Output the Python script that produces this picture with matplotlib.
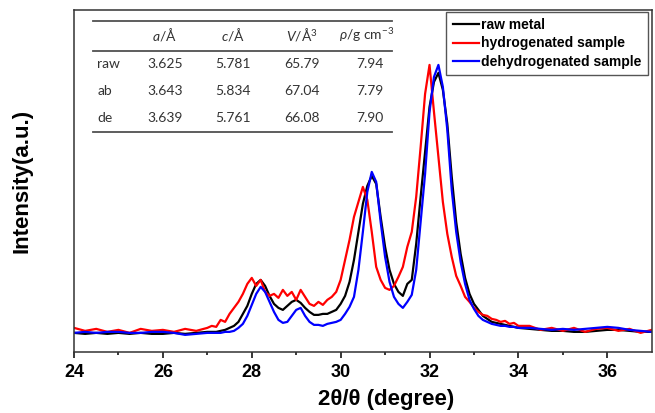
import numpy as np
import matplotlib
matplotlib.use("Agg")
import matplotlib.pyplot as plt

# 2theta grid (degrees): coarse on the flat baseline, finer around the peaks
two_theta = np.concatenate([
    np.arange(24.0, 27.01, 0.25),
    np.arange(27.1, 34.01, 0.1),
    np.arange(34.25, 37.01, 0.25),
])

raw_metal = [
    19, 18, 19, 18, 19, 18, 19, 18, 18, 19, 18, 19, 20,
    20, 20, 21, 22, 24, 26, 30, 38, 46, 58,
    68, 72, 66, 56, 48, 44, 42, 46, 50, 52,
    49, 44, 40, 37, 37, 38, 38, 40, 42, 48,
    56, 70, 92, 120, 148, 166, 176, 168, 135, 105,
    82, 68, 60, 56, 68, 72, 108, 155, 200, 245,
    270, 279, 262, 228, 175, 130, 98, 74, 58, 48,
    42, 36, 33, 30, 29, 28, 27, 26, 25, 24,
    23, 22, 21, 21, 20, 20, 21, 22, 22, 21, 20, 20,
]
hydrogenated = [
    24, 21, 23, 20, 22, 19, 23, 21, 22, 20, 23, 21, 24,
    26, 25, 32, 30, 38, 44, 50, 58, 68, 74,
    66, 72, 60, 56, 58, 54, 62, 56, 60, 52,
    62, 55, 48, 46, 50, 47, 52, 55, 60, 72,
    92, 112, 135, 150, 165, 152, 120, 85, 72, 64,
    62, 66, 75, 85, 105, 120, 155, 205, 258, 287,
    240, 195, 150, 118, 95, 76, 66, 55, 50, 44,
    40, 37, 36, 33, 32, 30, 31, 28, 29, 26,
    26, 22, 24, 21, 24, 20, 23, 24, 21, 23, 19, 22,
]
dehydrogenated = [
    19, 20, 19, 20, 20, 19, 19, 20, 20, 19, 17, 18, 19,
    19, 19, 19, 20, 20, 21, 24, 28, 36, 47,
    58, 65, 60, 50, 40, 32, 29, 30, 36, 42,
    44, 36, 30, 27, 27, 26, 28, 29, 30, 32,
    38, 45, 55, 82, 120, 160, 180, 170, 130, 95,
    70, 55, 48, 44, 50, 57, 82, 130, 178, 240,
    275, 287, 265, 222, 162, 120, 90, 68, 52, 43,
    36, 32, 30, 28, 27, 26, 26, 25, 25, 24,
    24, 23, 22, 23, 22, 23, 24, 25, 24, 22, 21, 20,
]

series_labels = ["raw metal", "hydrogenated sample", "dehydrogenated sample"]
series_colors = ["black", "#ff0000", "#0000ff"]

# lattice parameter table
row_names = ["raw", "ab", "de"]
col_heads = [r"$\mathit{a}$/Å", r"$\mathit{c}$/Å", r"$\mathit{V}$/Å$^3$", r"$\mathit{\rho}$/g cm$^{-3}$"]
table_vals = [
    ["3.625", "5.781", "65.79", "7.94"],
    ["3.643", "5.834", "67.04", "7.79"],
    ["3.639", "5.761", "66.08", "7.90"],
]

plt.rcParams["font.family"] = ["Liberation Sans", "DejaVu Sans"]
plt.rcParams["mathtext.fontset"] = "custom"
plt.rcParams["mathtext.rm"] = "Lato"
plt.rcParams["mathtext.it"] = "Lato:italic"

fig = plt.figure(figsize=(6.55, 4.13), dpi=100)
ax = fig.add_axes([0.113, 0.148, 0.882, 0.828])

for ys, lab, col in zip([raw_metal, hydrogenated, dehydrogenated], series_labels, series_colors):
    ax.plot(two_theta, ys, color=col, lw=1.6, label=lab)

ax.set_xlim(24, 37)
ax.set_ylim(0, 342)
ax.set_xticks(np.arange(24, 37, 2))
ax.set_xticks(np.arange(25, 37, 2), minor=True)
ax.set_yticks([])
ax.tick_params(axis="x", which="major", direction="out", length=4.5, width=1.1, labelsize=13, pad=4)
ax.tick_params(axis="x", which="minor", direction="out", length=2.5, width=1.1)
for lbl in ax.get_xticklabels():
    lbl.set_fontweight("bold")
for sp in ax.spines.values():
    sp.set_color("#333333")
    sp.set_linewidth(1.1)

ax.set_xlabel("2θ/θ (degree)", fontsize=16, fontweight="bold")
ax.xaxis.set_label_coords(0.54, -0.11)
ax.set_ylabel("Intensity(a.u.)", fontsize=16, fontweight="bold")
ax.yaxis.set_label_coords(-0.072, 0.5)

leg = ax.legend(loc="upper right", bbox_to_anchor=(0.993, 0.994), borderaxespad=0,
                fancybox=False, framealpha=1, edgecolor="#555555",
                prop={"weight": "bold", "size": 10}, handlelength=1.9,
                handletextpad=0.15, labelspacing=0.3, borderpad=0.45)
leg.get_frame().set_linewidth(1.0)

# table drawn in axes fraction coordinates
tfont = dict(family=["Lato", "DejaVu Sans"], fontsize=10, color="#333333")
x0, x1 = 0.032, 0.550
for yl in [0.969, 0.881, 0.644]:
    ax.plot([x0, x1], [yl, yl], transform=ax.transAxes, color="#505050", lw=1.3)
col_x = [0.157, 0.275, 0.394, 0.512]
head_x = [0.157, 0.275, 0.394, 0.507]
for cx, h in zip(head_x, col_heads):
    ax.text(cx, 0.927, h, transform=ax.transAxes, ha="center", va="center", **tfont)
row_y = [0.842, 0.762, 0.685]
for ry, name, vals in zip(row_y, row_names, table_vals):
    ax.text(0.040, ry, name, transform=ax.transAxes, ha="left", va="center", **tfont)
    for cx, v in zip(col_x, vals):
        ax.text(cx, ry, v, transform=ax.transAxes, ha="center", va="center", **tfont)

fig.savefig("out.png", dpi=100)
